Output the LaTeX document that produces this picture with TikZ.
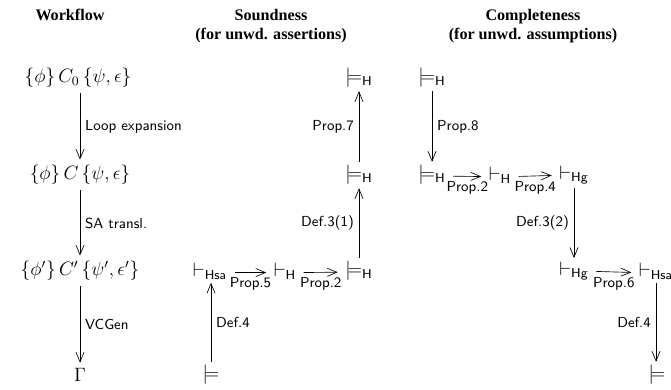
\documentclass[tikz,border=0pt]{standalone}
\usepackage{amsmath,amssymb}
\usepackage[no-math]{fontspec}
\setmainfont{Liberation Serif}
\usetikzlibrary{arrows.meta,positioning}

\newcommand{\entH}{\models_{\mathsf{H}}}
\newcommand{\prvH}{\vdash_{\mathsf{H}}}
\newcommand{\prvHg}{\vdash_{\mathsf{Hg}}}
\newcommand{\prvHsa}{\vdash_{\mathsf{Hsa}}}

\begin{document}
\begin{tikzpicture}[x=0.62pt, y=0.62pt, >={Straight Barb[length=6pt,width=5pt]},
    hdr/.style={font=\bfseries, align=center},
    wf/.style={font=\large},
    ts/.style={font=\large, inner sep=2pt},
    hz/.style={->, shorten <=2.5pt, shorten >=2.5pt},
    lbl/.style={font=\small\sffamily, inner sep=3pt}]

    % 画布大小 (与参考图比例一致)
    \useasboundingbox (0,0) rectangle (671,389);

    % 行的高度
    \def\rA{311}
    \def\rB{214}
    \def\rC{118}
    \def\rD{14}

    % 1. 标题
    \node[hdr] (hw) at (70,374) {Workflow};
    \node[hdr] (hs) at (271,363) {Soundness\\(for unwd. assertions)};
    \node[hdr] (hc) at (533,363) {Completeness\\(for unwd. assumptions)};

    % 2. Workflow 列
    \node[wf] (w1) at (78,\rA) {$\{\phi\}\,C_0\,\{\psi,\epsilon\}$};
    \node[wf] (w2) at (80,\rB) {$\{\phi\}\,C\,\{\psi,\epsilon\}$};
    \node[wf] (w3) at (80,\rC) {$\{\phi'\}\,C'\,\{\psi',\epsilon'\}$};
    \node[wf] (w4) at (80,\rD) {$\Gamma$};
    \draw[->] (w1.south -| w4) -- (w2.north -| w4) node[midway, right, lbl] {Loop expansion};
    \draw[->] (w2.south -| w4) -- (w3.north -| w4) node[midway, right, lbl] {SA transl.};
    \draw[->] (w3.south -| w4) -- (w4) node[midway, right, lbl] {VCGen};

    % 3. Soundness 列
    \node[ts] (s1) at (359,\rA) {$\entH$};
    \node[ts] (s2) at (359,\rB) {$\entH$};
    \node[ts] (s3) at (359,\rC) {$\entH$};
    \node[ts] (sa) at (210,\rC) {$\prvHsa$};
    \node[ts] (sh) at (285,\rC) {$\prvH$};
    \node[ts] (sb) at (211,\rD) {$\models$};
    \draw[->] (sb.north) -- (sb.north |- sa.south) node[midway, right, lbl] {Def.4};
    \draw[hz] (sa.mid east) -- (sh.mid west) node[midway, below, lbl] {Prop.5};
    \draw[hz] (sh.mid east) -- (s3.mid west) node[midway, below, lbl] {Prop.2};
    \draw[->] (s3) -- (s2) node[midway, left, lbl] {Def.3(1)};
    \draw[->] (s2) -- (s1) node[midway, left, lbl] {Prop.7};

    % 4. Completeness 列
    \node[ts] (c1) at (432,\rA) {$\entH$};
    \node[ts] (c2) at (432,\rB) {$\entH$};
    \node[ts] (ch) at (500,\rB) {$\prvH$};
    \node[ts] (cg) at (574,\rB) {$\prvHg$};
    \node[ts] (cg2) at (574,\rC) {$\prvHg$};
    \node[ts] (cs) at (656,\rC) {$\prvHsa$};
    \node[ts] (cb) at (657,\rD) {$\models$};
    \draw[->] (c1) -- (c2) node[midway, right, lbl] {Prop.8};
    \draw[hz] (c2.mid east) -- (ch.mid west) node[midway, below, lbl] {Prop.2};
    \draw[hz] (ch.mid east) -- (cg.mid west) node[midway, below, lbl] {Prop.4};
    \draw[->] (cg) -- (cg2) node[midway, left, lbl] {Def.3(2)};
    \draw[hz] (cg2.mid east) -- (cs.mid west) node[midway, below, lbl] {Prop.6};
    \draw[->] (cs.south) -- (cs.south |- cb.north) node[midway, left, lbl] {Def.4};

\end{tikzpicture}
\end{document}
